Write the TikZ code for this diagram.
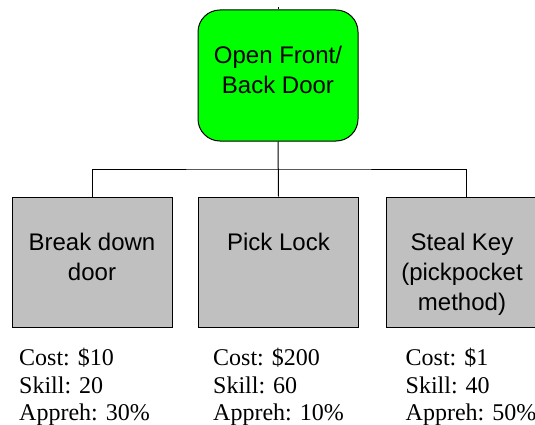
\documentclass[tikz,border=0pt]{standalone}
\usepackage{fontspec}
\setmainfont{Liberation Serif}
\newfontfamily\arialfont{Liberation Sans}
\definecolor{topgreen}{RGB}{0,255,0}
\definecolor{boxgray}{RGB}{192,192,192}
\begin{document}
\begin{tikzpicture}[x=1pt,y=-1pt,
  goalbox/.style={draw=black,line width=1pt,fill=topgreen,rounded corners=22pt,minimum width=160pt,minimum height=131pt,inner sep=0pt},
  stepbox/.style={draw=black,line width=1pt,fill=boxgray,minimum width=160pt,minimum height=130pt,inner sep=0pt},
  boxtext/.style={font=\arialfont\fontsize{24}{30}\selectfont,align=center,inner sep=0pt,anchor=north},
  infotext/.style={font=\fontsize{24}{27.5}\selectfont,align=left,inner sep=0pt,anchor=north west},
  conn/.style={draw=black,line width=1pt}]
\useasboundingbox (0,0) rectangle (535,425);
\clip (0,0) rectangle (535,425);
\fill[white] (0,0) rectangle (535,425);
% boxes
\node[goalbox] (top) at (278,75.5) {};
\node[stepbox] (left) at (92,262) {};
\node[stepbox] (mid) at (278.5,262) {};
\node[stepbox] (right) at (466,262) {};
% connectors
\coordinate (j) at (278,169);
\coordinate (stub) at (278,7);
\draw[conn] (top.north) -- (stub);
\draw[conn] (top.south) -- (mid.north);
\draw[conn] (left.north) |- (j) -| (right.north);
% box texts
\node[boxtext] (toptxt) at (278,45.5) {Open Front/\\Back Door};
\node[boxtext] (lefttxt) at (92,233) {Break down\\door};
\node[boxtext] (midtxt) at (278.5,233) {Pick Lock};
\node[boxtext] (righttxt) at (462,232.5) {Steal Key\\(pickpocket\\method)};
% info texts
\node[infotext] (leftinfo) at (19,348) {Cost: \$10\\Skill: 20\\Appreh: 30\%};
\node[infotext] (midinfo) at (213,348) {Cost: \$200\\Skill: 60\\Appreh: 10\%};
\node[infotext] (rightinfo) at (405.5,348) {Cost: \$1\\Skill: 40\\Appreh: 50\%};
\end{tikzpicture}
\end{document}
